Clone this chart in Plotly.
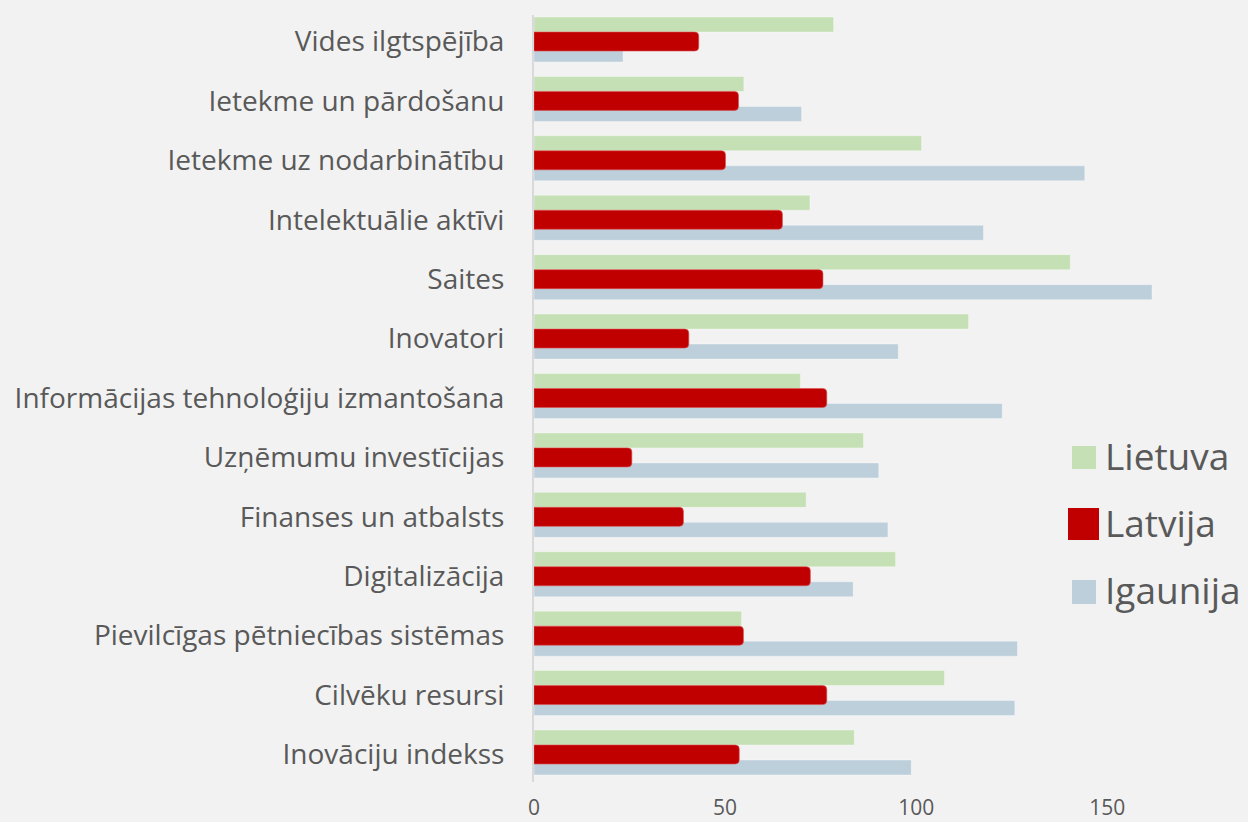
import plotly.graph_objects as go

# Categories listed bottom to top
categories = [
    "Inovāciju indekss",
    "Cilvēku resursi",
    "Pievilcīgas pētniecības sistēmas",
    "Digitalizācija",
    "Finanses un atbalsts",
    "Uzņēmumu investīcijas",
    "Informācijas tehnoloģiju izmantošana",
    "Inovatori",
    "Saites",
    "Intelektuālie aktīvi",
    "Ietekme uz nodarbinātību",
    "Ietekme un pārdošanu",
    "Vides ilgtspējība",
]

lietuva = [83.8, 107.4, 54.3, 94.6, 71.2, 86.2, 69.7, 113.7, 140.3, 72.2, 101.4, 54.9, 78.4]
latvija = [53.7, 76.6, 54.8, 72.3, 39.1, 25.6, 76.6, 40.5, 75.6, 65.0, 50.1, 53.5, 43.1]
igaunija = [98.7, 125.8, 126.5, 83.5, 92.6, 90.2, 122.5, 95.3, 161.7, 117.6, 144.1, 70.0, 23.3]

series_names = ["Lietuva", "Latvija", "Igaunija"]
x_ticks = [0, 50, 100, 150]

C_GREEN = "#c5e0b4"
C_RED = "#c00000"
C_BLUE = "#bdcfdb"
C_TEXT = "#595959"
BG = "#f2f2f2"
FONT = "Open Sans"

W, H = 1248, 822
ML, MR, MT, MB = 534, 26, 15, 40

fig = go.Figure()
fig.add_trace(go.Bar(
    y=categories, x=lietuva, orientation="h", name=series_names[0],
    marker=dict(color=C_GREEN, line=dict(color="rgba(255,255,255,0.35)", width=1)),
    offset=0.16, width=0.2525, showlegend=False,
))
fig.add_trace(go.Bar(
    y=categories, x=igaunija, orientation="h", name=series_names[2],
    marker=dict(color=C_BLUE, line=dict(color="rgba(255,255,255,0.35)", width=1)),
    offset=-0.345, width=0.2525, showlegend=False,
))
fig.add_trace(go.Bar(
    y=categories, x=latvija, orientation="h", name=series_names[1],
    marker=dict(color=C_RED, cornerradius=4, line=dict(color="rgba(220,80,80,0.6)", width=1)),
    offset=-0.16, width=0.32, showlegend=False,
))

pw = W - ML - MR
ph = H - MT - MB


def px_x(px):
    return (px - ML) / pw


def px_y(py):
    return (H - MB - py) / ph


# custom legend (large swatches as in the reference)
legend_items = [
    (series_names[0], C_GREEN, 1072, 1096, 446, 469, 456),
    (series_names[1], C_RED, 1068, 1099, 508, 540, 522),
    (series_names[2], C_BLUE, 1072, 1096, 580, 604, 589),
]
shapes = []
annotations = []
for name, col, x0, x1, y0, y1, yc in legend_items:
    shapes.append(dict(type="rect", xref="paper", yref="paper",
                       x0=px_x(x0), x1=px_x(x1), y0=px_y(y1), y1=px_y(y0),
                       fillcolor=col, line=dict(width=0), layer="above"))
    annotations.append(dict(xref="paper", yref="paper", x=px_x(1103), y=px_y(yc),
                            xanchor="left", yanchor="middle", showarrow=False,
                            text=name, font=dict(family=FONT, size=37, color=C_TEXT)))

fig.update_layout(
    width=W, height=H, autosize=False,
    margin=dict(l=ML, r=MR, t=MT, b=MB, pad=0),
    paper_bgcolor=BG, plot_bgcolor=BG,
    barmode="overlay",
    shapes=shapes, annotations=annotations,
    font=dict(family=FONT, color=C_TEXT),
    xaxis=dict(range=[0, 180], tickvals=x_ticks, showgrid=False, zeroline=False,
               showline=False, ticks="", tickfont=dict(size=21, color=C_TEXT),
               ticklabelstandoff=11, automargin=False),
    yaxis=dict(type="category", categoryorder="array", categoryarray=categories,
               range=[-0.463, 12.446], showgrid=False, zeroline=False,
               showline=True, linecolor="#d9d9d9", linewidth=2, ticks="",
               tickfont=dict(size=28, color=C_TEXT), ticklabelstandoff=22,
               automargin=False),
)

fig.write_html(
    "out.html",
    config={"displayModeBar": False},
    post_script="document.body.style.margin='0';document.body.style.overflow='hidden';",
)
